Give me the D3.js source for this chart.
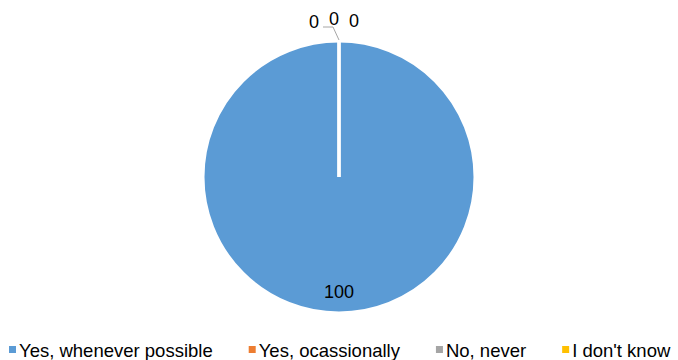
<!DOCTYPE html>
<html>
<head>
<meta charset="utf-8">
<script src="https://cdn.jsdelivr.net/npm/d3@7"></script>
<style>
  body { margin: 0; background: #fff; }
  svg text { font-family: "Liberation Sans", Arial, sans-serif; fill: #000; }
</style>
</head>
<body>
<svg id="chart"></svg>
<script>
// data
let categories = ["Yes, whenever possible", "Yes, ocassionally", "No, never", "I don't know"];
let values = [100, 0, 0, 0];
let colors = ["#5B9BD5", "#ED7D31", "#A5A5A5", "#FFC000"];

// layout
let width = 678;
let height = 360;
let cx = 339, cy = 177, radius = 136;

// where excel pushed the zero labels, relative to the top of the pie
let zeroLabelOffsets = [[-25, -19.5], [-5, -22.5], [15, -20]];

let svg = d3.select("#chart").attr("width", width).attr("height", height);

let pieData = d3.pie().sort(null).value(d => d)(values);
let arc = d3.arc().innerRadius(0).outerRadius(radius);
let labelArc = d3.arc().innerRadius(radius * 0.84).outerRadius(radius * 0.84);

let pieG = svg.append("g").attr("transform", `translate(${cx},${cy})`);

pieG.selectAll("path")
  .data(pieData)
  .join("path")
  .attr("d", arc)
  .attr("fill", (d, i) => colors[i])
  .attr("stroke", "#fff")
  .attr("stroke-width", 3);

// labels
let zeroIdx = 0;
pieData.forEach((d, i) => {
  if (d.value > 0) {
    let c = labelArc.centroid(d);
    pieG.append("text")
      .attr("x", c[0])
      .attr("y", c[1])
      .attr("dy", "0.35em")
      .attr("text-anchor", "middle")
      .style("font-size", "18px")
      .text(d.value);
  } else {
    // zero slice sits at the top of the pie
    let px = 0, py = -radius;
    let off = zeroLabelOffsets[zeroIdx];
    let tx = px + off[0], ty = py + off[1];
    if (zeroIdx === 0) {
      pieG.append("polyline")
        .attr("points", [[tx + 9, ty + 5.5], [tx + 19, ty + 5.5], [px, py - 1]].map(p => p.join(",")).join(" "))
        .attr("fill", "none")
        .attr("stroke", "#A6A6A6")
        .attr("stroke-width", 1);
    }
    pieG.append("text")
      .attr("x", tx)
      .attr("y", ty)
      .attr("dy", "0.35em")
      .attr("text-anchor", "middle")
      .style("font-size", "18px")
      .text(d.value);
    zeroIdx++;
  }
});

// legend
let legend = svg.append("g").attr("transform", "translate(9, 357)");
let lx = 0;
categories.forEach((c, i) => {
  let item = legend.append("g").attr("transform", `translate(${lx},0)`);
  item.append("rect")
    .attr("x", 0).attr("y", -11)
    .attr("width", 7).attr("height", 7)
    .attr("fill", colors[i]);
  let t = item.append("text")
    .attr("x", 10)
    .attr("y", 0)
    .style("font-size", "18.5px")
    .text(c);
  lx += 10 + t.node().getComputedTextLength() + 36;
});
</script>
</body>
</html>
